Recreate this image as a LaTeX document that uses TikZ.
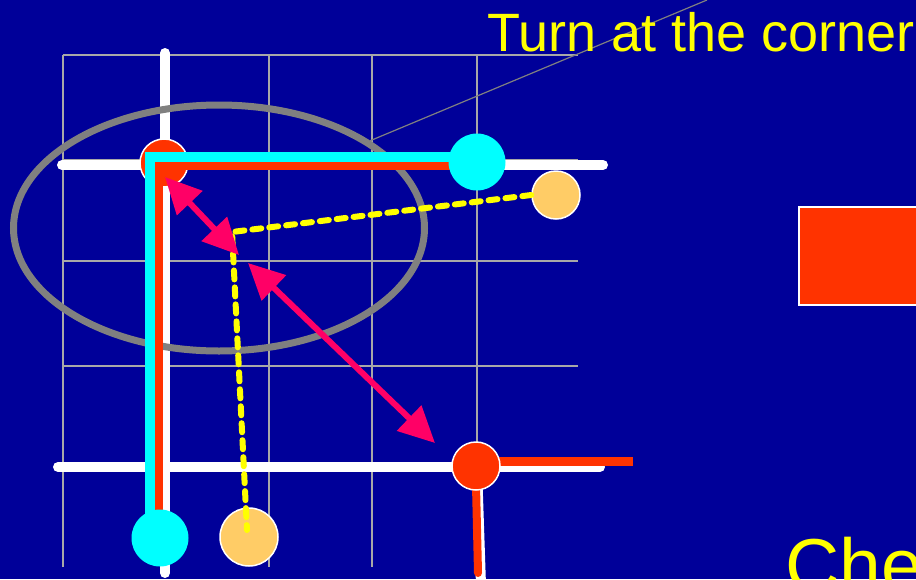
\documentclass[tikz,border=0pt]{standalone}
\usepackage{fontspec}
\setmainfont{Liberation Sans}
\usetikzlibrary{arrows.meta,shapes.geometric}
\definecolor{slideblue}{HTML}{000099}
\definecolor{signred}{HTML}{FF3300}
\definecolor{signcyan}{HTML}{00FFFF}
\definecolor{signsand}{HTML}{FFCC66}
\definecolor{signpink}{HTML}{FF0066}
\definecolor{signyellow}{HTML}{FFFF00}
\definecolor{gridgray}{HTML}{A8A8A8}
\definecolor{ringgray}{HTML}{808080}

\begin{document}
\begin{tikzpicture}[x=1pt,y=-1pt]

\tikzset{
road/.style={white,line width=10pt,line cap=round},
spot/.style={circle,inner sep=0pt,minimum size=#1},
redspot/.style={spot=48pt,fill=signred,draw=white,line width=1.5pt},
cyanspot/.style={spot=57pt,fill=signcyan},
sandspot/.style={spot=#1,fill=signsand,draw=white,line width=1.5pt},
track/.style={line width=#1,line join=miter},
trail/.style={signyellow,line width=6pt,line cap=round,dash pattern=on 9pt off 8pt},
gap/.style={signpink,line width=6pt,
    {Triangle[length=36pt,width=34pt]}-{Triangle[length=36pt,width=34pt]}},
caption/.style={signyellow,inner sep=0pt,anchor=base west,
    font=\fontsize{54}{60}\selectfont}
}

\fill[slideblue] (0,0) rectangle (916,579);
\useasboundingbox (0,0) rectangle (916,579);

% street grid
\foreach \gx in {63,165,269,372,477}
  \draw[gridgray,line width=1.5pt] (\gx,55) -- (\gx,567);
\foreach \gy in {55,160,261,366,467}
  \draw[gridgray,line width=1.5pt] (63,\gy) -- (578,\gy);

% roads
\draw[road] (62,165) -- (603,165);
\draw[road] (165,53) -- (165,573);
\draw[road] (58,467) -- (600,467);
\draw[road] (477,467) -- (481,585);

% zone round the corner
\node[ellipse,draw=ringgray,line width=7pt,minimum width=411pt,
      minimum height=246pt,inner sep=0pt] (zone) at (219,228) {};
\coordinate (lead) at (707,0);
\draw[ringgray,line width=1.2pt] (zone.30) -- (lead);

\node[caption] (title) at (487,51) {Turn at the corner};
\node[caption,font=\fontsize{75}{80}\selectfont] (next) at (785,591) {Che};

\draw[signred,draw=white,line width=1.5pt,fill=signred]
  (799,207) rectangle (930,305);

% red car
\node[redspot] (redA) at (164,163) {};
\coordinate (redbend) at (159,166);
\draw[signred,track=8pt] (159,515) -- (redbend) -- (452,166);

% cyan car
\coordinate (cyanbend) at (150,157);
\draw[signcyan,track=10pt] (150,515) -- (cyanbend) -- (460,157);
\node[cyanspot] (cyanB) at (160,538) {};
\node[cyanspot] (cyanA) at (477,162) {};

% second red car
\draw[signred,line width=9pt] (495,461) -- (633,461);
\draw[signred,line width=8pt,line cap=round] (476,485) -- (478,573);
\node[redspot] (redB) at (476,466) {};

% sand cars and their trail
\node[sandspot=48pt] (sandA) at (556,195) {};
\node[sandspot=58pt] (sandB) at (249,537) {};
\coordinate (trailbend) at (232,232);
\coordinate (trailend) at (247,530);
\draw[trail] (sandA.west) -- (trailbend) -- (trailend);

% distances
\coordinate (gapA1) at (165,177);
\coordinate (gapA2) at (239,255);
\coordinate (gapB1) at (248,263);
\coordinate (gapB2) at (435,443);
\draw[gap] (gapA1) -- (gapA2);
\draw[gap] (gapB1) -- (gapB2);

\end{tikzpicture}
\end{document}
